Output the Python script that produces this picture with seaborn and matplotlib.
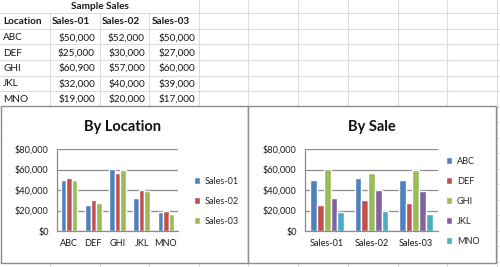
import numpy as np
import pandas as pd
import matplotlib
matplotlib.use("Agg")
import matplotlib.pyplot as plt
from matplotlib.patches import Rectangle
from matplotlib.ticker import FuncFormatter, FixedLocator
import seaborn as sns

# ---- data ----
locations = ["ABC", "DEF", "GHI", "JKL", "MNO"]
series = ["Sales-01", "Sales-02", "Sales-03"]
sales_01 = [50000, 25000, 60900, 32000, 19000]
sales_02 = [52000, 30000, 57000, 40000, 20000]
sales_03 = [50000, 27000, 60000, 39000, 17000]
table_title = "Sample Sales"
header_first = "Location"
yticks = [0, 20000, 40000, 60000, 80000]

series_colors = ["#4F81BD", "#C0504D", "#9BBB59"]
loc_colors = ["#4F81BD", "#C0504D", "#9BBB59", "#8064A2", "#4BACC6"]

values = {"Sales-01": sales_01, "Sales-02": sales_02, "Sales-03": sales_03}
rows = []
for s in series:
    for loc, v in zip(locations, values[s]):
        rows.append({"Location": loc, "Series": s, "Value": v})
df = pd.DataFrame(rows)

sns.set_theme(style="white")
plt.rcParams["font.family"] = ["Lato", "DejaVu Sans"]

W, H = 500, 267
fig = plt.figure(figsize=(5, 2.67), dpi=100)

# background (spreadsheet) in pixel coordinates
bg = fig.add_axes([0, 0, 1, 1])
bg.set_xlim(0, W)
bg.set_ylim(H, 0)
bg.axis("off")
gridc = "#DADCDD"
for x in [50, 100, 149, 199, 248, 298, 348, 398, 447, 497]:
    bg.plot([x, x], [0, H], color=gridc, lw=0.8, zorder=1)
for y in [13, 29, 44, 60, 76, 91, 107, 122, 138, 153, 169, 184, 200, 215, 231, 246, 262]:
    bg.plot([0, W], [y, y], color=gridc, lw=0.8, zorder=1)
# merged title cell: cover lines in title row
bg.add_patch(Rectangle((0.5, 0), 198, 12.5, facecolor="white", edgecolor="none", zorder=2))

txtc = "#1a1a1a"
fs_t = 7.2
bg.text(100, 6.5, table_title, ha="center", va="center", fontsize=fs_t, fontweight="bold", color=txtc, zorder=3)
bg.text(3, 22, header_first, ha="left", va="center", fontsize=fs_t, fontweight="bold", color=txtc, zorder=3)
col_left = [52, 102, 152]
col_right = [95, 145, 195]
for i, s in enumerate(series):
    bg.text(col_left[i], 22, s, ha="left", va="center", fontsize=fs_t, fontweight="bold", color=txtc, zorder=3)
row_y = [38, 53, 68.5, 84, 99.5]
for r, loc in enumerate(locations):
    bg.text(3, row_y[r], loc, ha="left", va="center", fontsize=fs_t, color=txtc, zorder=3)
    for i, s in enumerate(series):
        bg.text(col_right[i], row_y[r], f"${values[s][r]:,}", ha="right", va="center",
                fontsize=fs_t, color=txtc, zorder=3)

# chart boxes
bg.add_patch(Rectangle((1, 106), 247, 157, facecolor="white", edgecolor="#8C8C8C", lw=1.0, zorder=4))
bg.add_patch(Rectangle((248, 106), 247.5, 157, facecolor="white", edgecolor="#8C8C8C", lw=1.0, zorder=4))

def px_axes(x0, x1, ytop, ybot):
    return fig.add_axes([x0 / W, (H - ybot) / H, (x1 - x0) / W, (ybot - ytop) / H])

money = FuncFormatter(lambda v, p: f"${int(v):,}")
axc = "#8C8C8C"
fs_a = 6.6

def style(ax, ncat):
    ax.set_ylim(0, 80000)
    ax.set_xlim(-0.5, ncat - 0.5)
    ax.yaxis.set_major_locator(FixedLocator(yticks))
    ax.yaxis.set_major_formatter(money)
    ax.grid(axis="y", color=axc, lw=0.9)
    ax.set_axisbelow(True)
    for sp in ["top", "right"]:
        ax.spines[sp].set_visible(False)
    for sp in ["left", "bottom"]:
        ax.spines[sp].set_color(axc)
        ax.spines[sp].set_linewidth(0.9)
    ax.set_xlabel("")
    ax.set_ylabel("")
    ax.set_xticks(np.arange(-0.5, ncat, 1.0), minor=True)
    ax.tick_params(axis="x", which="major", length=0, labelsize=fs_a, colors=txtc, pad=6)
    ax.tick_params(axis="x", which="minor", length=3, color=axc, direction="out")
    ax.tick_params(axis="y", which="major", length=3, color=axc, direction="out", labelsize=fs_a, labelcolor=txtc, pad=3)
    ax.patch.set_alpha(0)

# left chart: by location
ax1 = px_axes(57, 178, 149, 231)
sns.barplot(data=df, x="Location", y="Value", hue="Series", palette=series_colors,
            saturation=1, width=0.68, errorbar=None, ax=ax1, order=locations, hue_order=series)
style(ax1, len(locations))
h, l = ax1.get_legend_handles_labels()
ax1.legend(h, l, loc="center left", bbox_to_anchor=(190 / W, (H - 201) / H), bbox_transform=fig.transFigure,
           frameon=False, fontsize=fs_a, handlelength=0.7, handleheight=0.7, handletextpad=0.5,
           labelspacing=1.2, borderaxespad=0)
fig.text(123 / W, (H - 127) / H, "By Location", ha="center", va="center", fontsize=10.5,
         fontweight="bold", color="#111111")

# right chart: by sale
ax2 = px_axes(305, 438, 149, 231)
sns.barplot(data=df, x="Series", y="Value", hue="Location", palette=loc_colors,
            saturation=1, width=0.76, errorbar=None, ax=ax2, order=series, hue_order=locations)
style(ax2, len(series))
h, l = ax2.get_legend_handles_labels()
ax2.legend(h, l, loc="center left", bbox_to_anchor=(442 / W, (H - 201) / H), bbox_transform=fig.transFigure,
           frameon=False, fontsize=fs_a, handlelength=0.7, handleheight=0.7, handletextpad=0.5,
           labelspacing=1.2, borderaxespad=0)
fig.text(372 / W, (H - 127) / H, "By Sale", ha="center", va="center", fontsize=10.5,
         fontweight="bold", color="#111111")

fig.savefig("out.png", dpi=100)
